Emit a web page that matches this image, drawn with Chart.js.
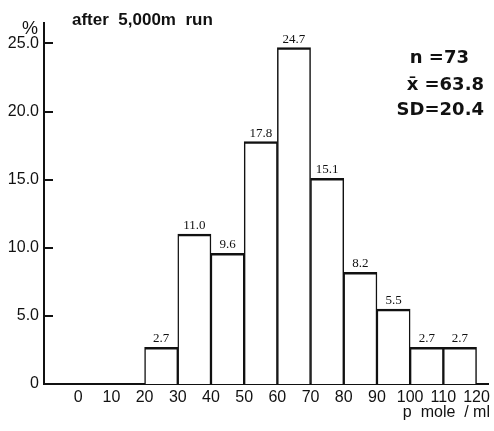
<!DOCTYPE html>
<html>
<head>
<meta charset="utf-8">
<script src="https://cdn.jsdelivr.net/npm/chart.js@4"></script>
<style>
  body { margin: 0; background: #fff; }
  #wrap { width: 494px; height: 431px; position: relative; }
</style>
</head>
<body>
<div id="wrap"><canvas id="hist-chart"></canvas></div>
<script>
  const binStarts = [20, 30, 40, 50, 60, 70, 80, 90, 100, 110];
  const percents = [2.7, 11.0, 9.6, 17.8, 24.7, 15.1, 8.2, 5.5, 2.7, 2.7];
  const valueLabels = ['2.7', '11.0', '9.6', '17.8', '24.7', '15.1', '8.2', '5.5', '2.7', '2.7'];
  const xTicks = [0, 10, 20, 30, 40, 50, 60, 70, 80, 90, 100, 110, 120];
  const yTicks = [0, 5, 10, 15, 20, 25];
  const statLines = ['n =73', 'x\u0304 =63.8', 'SD=20.4'];

  const ink = '#111';
  const histCtx = document.getElementById('hist-chart').getContext('2d');

  // labels, inner ticks and annotations
  const extras = {
    id: 'extras',
    afterDraw(chart) {
      const { ctx, chartArea, scales } = chart;
      const x = scales.x, y = scales.y;
      ctx.save();
      ctx.strokeStyle = ink;
      ctx.lineWidth = 2;
      yTicks.forEach(v => {
        if (v === 0) return;
        const py = Math.round(y.getPixelForValue(v));
        ctx.beginPath();
        ctx.moveTo(chartArea.left, py);
        ctx.lineTo(chartArea.left + 9, py);
        ctx.stroke();
      });

      ctx.fillStyle = ink;
      ctx.textAlign = 'center';
      ctx.textBaseline = 'alphabetic';
      ctx.font = '13px "Liberation Serif", serif';
      binStarts.forEach((s, i) => {
        ctx.fillText(valueLabels[i], x.getPixelForValue(s + 5), y.getPixelForValue(percents[i]) - 5);
      });

      ctx.textAlign = 'left';
      ctx.font = 'bold 17px "Liberation Sans", Arial, sans-serif';
      ctx.fillText('after  5,000m  run', 72, 25);
      ctx.font = '18px "Liberation Sans", Arial, sans-serif';
      ctx.fillText('%', 22, 34);

      ctx.font = 'bold 18px "DejaVu Sans", "Liberation Sans", sans-serif';
      ctx.textAlign = 'right';
      ctx.fillText(statLines[0], 469, 63);
      ctx.fillText(statLines[1], 484, 90);
      ctx.fillText(statLines[2], 484, 115);

      ctx.font = '16px "Liberation Sans", Arial, sans-serif';
      ctx.fillText('p  mole  / ml', 490, 417);
      ctx.restore();
    }
  };

  new Chart(histCtx, {
    type: 'bar',
    data: {
      datasets: [
        {
          data: binStarts.map((s, i) => ({ x: s + 5, y: percents[i] })),
          backgroundColor: '#fff',
          borderColor: ink,
          borderWidth: { top: 2.5, left: 1.5, right: 1.5, bottom: 0 },
          borderSkipped: false,
          barPercentage: 1,
          categoryPercentage: 1
        }
      ]
    },
    options: {
      responsive: true,
      maintainAspectRatio: false,
      animation: false,
      layout: { padding: { top: 23, right: 4, left: 0, bottom: 0 } },
      plugins: { legend: { display: false }, tooltip: { enabled: false } },
      scales: {
        x: {
          type: 'linear',
          offset: false,
          min: -10.3,
          max: 123.6,
          afterBuildTicks: scale => { scale.ticks = xTicks.map(v => ({ value: v })); },
          afterFit: scale => { scale.height = 47; },
          grid: { display: false, drawTicks: false },
          border: { color: ink, width: 2 },
          ticks: {
            padding: 4,
            color: ink,
            font: { family: '"Liberation Sans", Arial, sans-serif', size: 16 },
            maxRotation: 0,
            autoSkip: false
          }
        },
        y: {
          min: 0,
          max: 26.5,
          afterBuildTicks: scale => { scale.ticks = yTicks.map(v => ({ value: v })); },
          afterFit: scale => { scale.width = 44; },
          grid: { display: false, drawTicks: false },
          border: { color: ink, width: 2 },
          ticks: {
            padding: 5,
            color: ink,
            font: { family: '"Liberation Sans", Arial, sans-serif', size: 16 },
            callback: v => v === 0 ? '0' : v.toFixed(1)
          }
        }
      }
    },
    plugins: [extras]
  });
</script>
</body>
</html>
